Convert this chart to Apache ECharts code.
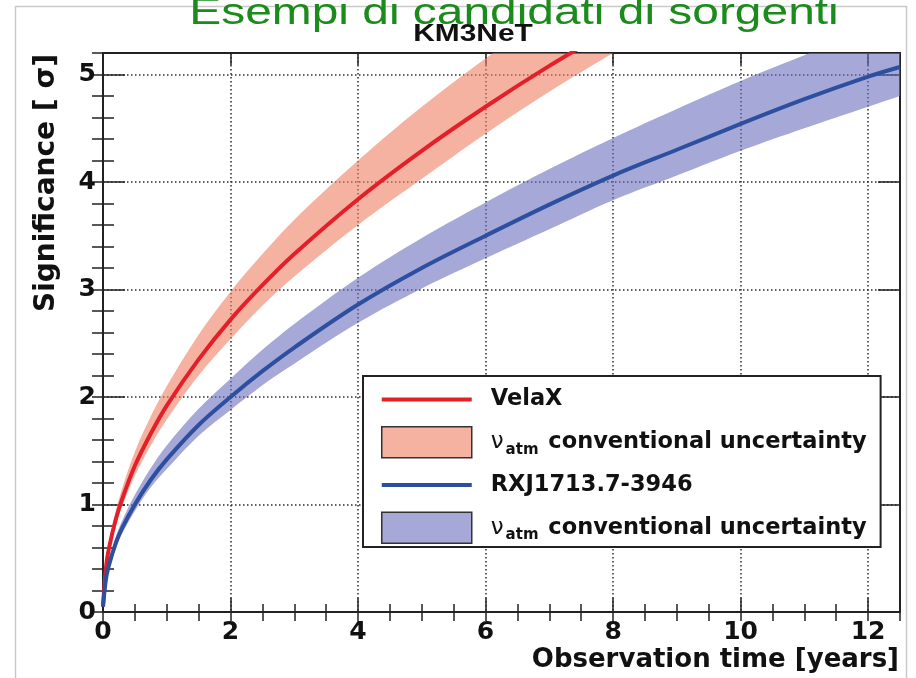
<!DOCTYPE html>
<html><head><meta charset="utf-8">
<script src="https://cdn.jsdelivr.net/npm/echarts@6/dist/echarts.min.js"></script>
<style>html,body{margin:0;padding:0;background:#fff}#c{width:916px;height:678px}</style>
</head><body><div id="c"></div>
<script>
// ---- data ----
const xTicks = [0, 2, 4, 6, 8, 10, 12];
const yTicks = [0, 1, 2, 3, 4, 5];

const velaT      = [0, 0.05, 0.1, 0.2, 0.3, 0.5, 0.75, 1, 1.5, 2, 2.5, 3, 4, 5, 6, 7, 8, 8.5];
const velaCenter = [0.05, 0.43, 0.61, 0.86, 1.05, 1.36, 1.66, 1.92, 2.35, 2.72, 3.04, 3.33, 3.84, 4.29, 4.70, 5.08, 5.43, 5.60];
const velaUpper  = [0.06, 0.47, 0.66, 0.94, 1.15, 1.49, 1.82, 2.10, 2.58, 2.98, 3.33, 3.65, 4.20, 4.70, 5.15, 5.57, 5.96, 6.15];
const velaLower  = [0.05, 0.40, 0.57, 0.80, 0.98, 1.27, 1.55, 1.79, 2.20, 2.54, 2.85, 3.12, 3.60, 4.03, 4.45, 4.84, 5.20, 5.37];

const rxjT      = [0, 0.05, 0.1, 0.2, 0.3, 0.5, 0.75, 1, 1.5, 2, 2.5, 3, 4, 5, 6, 7, 8, 9, 10, 11, 12, 12.5];
const rxjCenter = [0.05, 0.32, 0.45, 0.64, 0.78, 1.00, 1.23, 1.42, 1.74, 2.00, 2.24, 2.46, 2.86, 3.20, 3.50, 3.79, 4.06, 4.30, 4.54, 4.77, 4.98, 5.07];
const rxjUpper  = [0.06, 0.35, 0.49, 0.70, 0.85, 1.09, 1.34, 1.55, 1.89, 2.17, 2.44, 2.68, 3.11, 3.48, 3.81, 4.12, 4.41, 4.68, 4.94, 5.18, 5.41, 5.51];
const rxjLower  = [0.05, 0.30, 0.42, 0.60, 0.73, 0.94, 1.16, 1.33, 1.64, 1.88, 2.11, 2.31, 2.69, 3.01, 3.29, 3.56, 3.83, 4.06, 4.29, 4.50, 4.70, 4.80];

const seriesNames = ['VelaX', 'VelaX band', 'RXJ1713.7-3946', 'RXJ band'];

// ---- chart ----
const FONT = 'DejaVu Sans';
const RED = '#e3202a', BLUE = '#2d4f9f';
const RED_BAND = 'rgba(240,127,97,0.6)', BLUE_BAND = 'rgba(107,110,190,0.6)';
const RED_BAND_SOLID = '#f6b2a0', BLUE_BAND_SOLID = '#a6a8d8';

const pairs = (ts, vs) => ts.map((t, i) => [t, vs[i]]);
const isTick = (list, v) => list.some(t => Math.abs(t - v) < 1e-9);

// smooth path through pixel points (same kind of smoothing the line series use)
function curveTo(pts, k) {
  let d = '';
  const n = pts.length;
  const cps = pts.map((p, i) => {
    const prev = pts[Math.max(i - 1, 0)], next = pts[Math.min(i + 1, n - 1)];
    const d0 = Math.hypot(p[0] - prev[0], p[1] - prev[1]);
    const d1 = Math.hypot(next[0] - p[0], next[1] - p[1]);
    const s = d0 + d1 || 1;
    const vx = (next[0] - prev[0]) * k, vy = (next[1] - prev[1]) * k;
    return { inn: [p[0] - vx * d0 / s, p[1] - vy * d0 / s], out: [p[0] + vx * d1 / s, p[1] + vy * d1 / s] };
  });
  for (let i = 0; i < n - 1; i++) {
    const a = cps[i].out, b = cps[i + 1].inn, p = pts[i + 1];
    d += ' C' + a[0] + ',' + a[1] + ' ' + b[0] + ',' + b[1] + ' ' + p[0] + ',' + p[1];
  }
  return d;
}

function bandSeries(name, ts, lo, hi, color) {
  return {
    type: 'custom', name: name, silent: true, z: 1,
    itemStyle: { color: color },
    data: ts.map((t, i) => [t, lo[i], hi[i]]),
    encode: { x: 0, y: [1, 2] },
    renderItem: function (params, api) {
      if (params.dataIndex !== 0) return null;
      const up = ts.map((t, i) => api.coord([t, hi[i]]));
      const dn = ts.map((t, i) => api.coord([t, lo[i]])).reverse();
      const cs = params.coordSys;
      const path = 'M' + up[0][0] + ',' + up[0][1] + curveTo(up, 0.35) +
                   ' L' + dn[0][0] + ',' + dn[0][1] + curveTo(dn, 0.35) + ' Z';
      return {
        type: 'path',
        shape: { pathData: path },
        style: { fill: color, stroke: null },
        clipPath: { type: 'rect', shape: { x: cs.x, y: cs.y, width: cs.width, height: cs.height } }
      };
    }
  };
}

const frameLine = { show: true, onZero: false, lineStyle: { color: '#222', width: 2 } };
const tickStyle = { color: '#222', width: 1.5 };

function xAx(pos, interval, len, extra) {
  return Object.assign({
    type: 'value', min: 0, max: 12.5, interval: interval, position: pos, gridIndex: 0,
    axisLine: { show: false },
    axisTick: { show: true, inside: true, length: len, lineStyle: tickStyle },
    axisLabel: { show: false }, splitLine: { show: false }
  }, extra || {});
}
function yAx(pos, interval, len, extra) {
  return Object.assign({
    type: 'value', min: 0, max: 5.2, interval: interval, position: pos, gridIndex: 0,
    axisLine: { show: false },
    axisTick: { show: true, inside: true, length: len, lineStyle: tickStyle },
    axisLabel: { show: false }, splitLine: { show: false }
  }, extra || {});
}
const gridLine = { show: true, lineStyle: { color: '#2a2a2a', width: 1.5, type: [1.5, 2.5] } };
const labelStyle = { fontFamily: FONT, fontWeight: 'bold', fontSize: 25, color: '#111' };

const option = {
  backgroundColor: '#fff',
  animation: false,
  grid: { left: 103, right: 16, top: 53, bottom: 66, show: false },
  xAxis: [
    xAx('bottom', 2, 14, {
      axisLine: frameLine, splitLine: gridLine,
      axisLabel: Object.assign({ show: true, margin: 8, formatter: v => isTick(xTicks, v) ? String(v) : '' }, labelStyle)
    }),
    xAx('bottom', 0.5, 8),
    xAx('top', 2, 12, { axisLine: frameLine }),
    xAx('top', 0.5, 9)
  ],
  yAxis: [
    yAx('left', 1, 22, {
      axisLine: frameLine, splitLine: gridLine,
      axisLabel: Object.assign({ show: true, margin: 7, formatter: v => isTick(yTicks, v) ? String(v) : '' }, labelStyle)
    }),
    yAx('left', 0.2, 11),
    yAx('right', 1, 22, { axisLine: frameLine }),
    yAx('right', 0.2, 11)
  ],
  legend: {
    orient: 'vertical', left: 363, top: 376,
    padding: [12, 14, 3, 18], itemGap: 15, itemWidth: 90, itemHeight: 31,
    backgroundColor: '#fff', borderColor: '#222', borderWidth: 2, borderRadius: 0,
    selectedMode: false,
    data: [
      { name: seriesNames[0], icon: 'path://M0,0 L90,0 L90,4 L0,4 Z', itemStyle: { color: RED, borderWidth: 0 } },
      { name: seriesNames[1], icon: 'rect', itemStyle: { color: RED_BAND_SOLID, borderColor: '#333', borderWidth: 1.5 } },
      { name: seriesNames[2], icon: 'path://M0,0 L90,0 L90,4 L0,4 Z', itemStyle: { color: BLUE, borderWidth: 0 } },
      { name: seriesNames[3], icon: 'rect', itemStyle: { color: BLUE_BAND_SOLID, borderColor: '#333', borderWidth: 1.5 } }
    ],
    formatter: name => name.endsWith(' band')
      ? '{g|}{nu|ν}{sub|atm} {t|conventional uncertainty}'
      : '{g|}{t|' + name + '}',
    textStyle: {
      fontFamily: FONT, fontWeight: 'bold', fontSize: 22.5, color: '#111',
      rich: {
        g: { width: 14 },
        t: { fontFamily: FONT, fontWeight: 'bold', fontSize: 22.5, color: '#111', lineHeight: 30, verticalAlign: 'middle' },
        nu: { fontFamily: FONT, fontWeight: 'normal', fontSize: 23, color: '#111', lineHeight: 30, verticalAlign: 'middle' },
        sub: { fontFamily: FONT, fontWeight: 'bold', fontSize: 15, color: '#111', lineHeight: 14, verticalAlign: 'bottom', padding: [0, 2, 0, 2] }
      }
    }
  },
  series: [
    bandSeries(seriesNames[1], velaT, velaLower, velaUpper, RED_BAND),
    bandSeries(seriesNames[3], rxjT, rxjLower, rxjUpper, BLUE_BAND),
    { type: 'line', name: seriesNames[0], data: pairs(velaT, velaCenter), symbol: 'none', silent: true,
      smooth: 0.35, lineStyle: { color: RED, width: 4 }, itemStyle: { color: RED }, z: 3 },
    { type: 'line', name: seriesNames[2], data: pairs(rxjT, rxjCenter), symbol: 'none', silent: true,
      smooth: 0.35, lineStyle: { color: BLUE, width: 4 }, itemStyle: { color: BLUE }, z: 3 }
  ],
  graphic: [
    { type: 'rect', silent: true, z: -10, shape: { x: 15.5, y: 6.5, width: 891, height: 700 },
      style: { fill: null, stroke: '#c9c9c9', lineWidth: 1.5 } },
    { type: 'text', silent: true, x: 47, y: 183, rotation: Math.PI / 2,
      style: { text: 'Significance [ σ]', x: 0, y: 0, textAlign: 'center', textVerticalAlign: 'middle',
               font: 'bold 28px "DejaVu Sans"', fill: '#111' } },
    { type: 'text', silent: true, x: 899, y: 660,
      style: { text: 'Observation time [years]', x: 0, y: 0, textAlign: 'right', textVerticalAlign: 'middle',
               font: 'bold 26px "DejaVu Sans"', fill: '#111' } },
    { type: 'text', silent: true, x: 473, y: 35, scaleX: 1.3, z: 10,
      style: { text: 'KM3NeT', x: 0, y: 0, textAlign: 'center', textVerticalAlign: 'middle',
               font: 'bold 23px "Liberation Sans"', fill: '#111' } },
    { type: 'text', silent: true, x: 514, y: 14, scaleX: 1.33, z: 11,
      style: { text: 'Esempi di candidati di sorgenti', x: 0, y: 0, textAlign: 'center', textVerticalAlign: 'middle',
               font: '36px "Liberation Sans"', fill: '#1b8c1b' } }
  ]
};

const chart = echarts.init(document.getElementById('c'), null, { renderer: 'canvas' });
chart.setOption(option);
</script>
</body></html>
